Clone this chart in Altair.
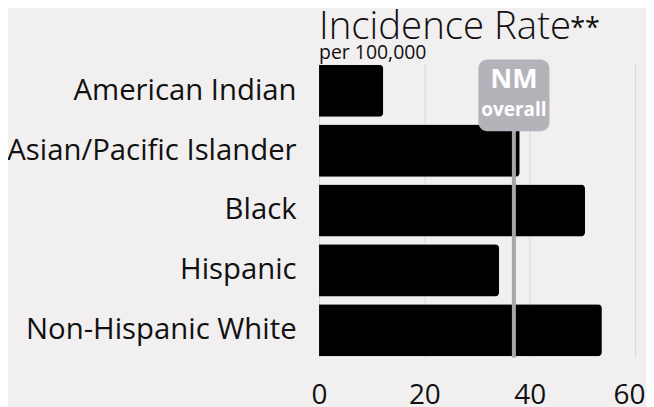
import altair as alt
import pandas as pd

groups = ["American Indian", "Asian/Pacific Islander", "Black", "Hispanic", "Non-Hispanic White"]
rates = [12.2, 38.1, 50.5, 34.2, 53.7]
nm_overall = [37.0]
x_ticks = [0, 20, 40, 60]
title_text = "Incidence Rate"
title_mark = "**"
subtitle_text = "per 100,000"

df = pd.DataFrame({"group": groups, "rate": rates})
nm = pd.DataFrame({"nm": nm_overall})

FONT = "Open Sans"
BG = "#f1efef"
INK = "#111111"

x = alt.X("rate:Q", scale=alt.Scale(domain=[0, 60], nice=False),
          axis=alt.Axis(values=x_ticks, title=None, domain=False, ticks=False,
                        labelFontSize=28, labelColor=INK, labelPadding=24,
                        labelFlush=False, labelFont=FONT, grid=True,
                        labelOffset={"condition": {"test": "datum.value == 60", "value": -6},
                                     "value": 0},
                        gridColor="#d9d9d9", gridWidth=1))
y = alt.Y("group:N", sort=groups,
          scale=alt.Scale(paddingInner=0.13, paddingOuter=0.02),
          axis=alt.Axis(title=None, domain=False, ticks=False, labelFontSize=29.4,
                        labelColor=INK, labelPadding=23, labelFont=FONT,
                        labelLimit=400))

bars = alt.Chart(df).mark_bar(color="#000000", cornerRadiusEnd=4).encode(x=x, y=y)

rule = alt.Chart(nm).mark_rule(color="#a6a6a6", strokeWidth=4).encode(
    x=alt.X("nm:Q"), y=alt.value(0), y2=alt.value(295))

box = alt.Chart(nm).transform_calculate(
    lo="datum.nm - 6.75", hi="datum.nm + 6.75"
).mark_rect(color="#b4b3ba", cornerRadius=9).encode(
    x="lo:Q", x2="hi:Q", y=alt.value(-4), y2=alt.value(68))

nm_text = alt.Chart(nm).mark_text(text="NM", font=FONT, fontSize=27, fontWeight="bold",
                                  color="#ffffff", baseline="alphabetic").encode(
    x="nm:Q", y=alt.value(25))
overall_text = alt.Chart(nm).mark_text(text="overall", font=FONT, fontSize=19,
                                       fontWeight="bold", color="#ffffff",
                                       baseline="alphabetic").encode(
    x="nm:Q", y=alt.value(53))

title = alt.Chart(nm).mark_text(text=title_text, font=FONT, fontSize=38.5, fontWeight=300,
                                color=INK, align="left", baseline="alphabetic").encode(
    x=alt.value(0), y=alt.value(-25))
stars = alt.Chart(nm).mark_text(text=title_mark, font=FONT, fontSize=27, color=INK,
                                align="left", baseline="alphabetic").encode(
    x=alt.value(252), y=alt.value(-27))
subtitle = alt.Chart(nm).mark_text(text=subtitle_text, font=FONT, fontSize=19.5, color=INK,
                                   align="left", baseline="alphabetic").encode(
    x=alt.value(0), y=alt.value(-4))

css = "body{background:" + BG + ";}"

chart = alt.layer(bars, rule, box, nm_text, overall_text, title, stars, subtitle).properties(
    width=317, height=295,
    autosize=alt.AutoSizeParams(type="none"),
    padding={"left": 312, "top": 55, "right": 11, "bottom": 49},
    background=BG,
    usermeta={"embedOptions": {"defaultStyle": css}},
).configure_view(stroke=None)

chart.save("out.html", embed_options={"renderer": "svg", "actions": False})
